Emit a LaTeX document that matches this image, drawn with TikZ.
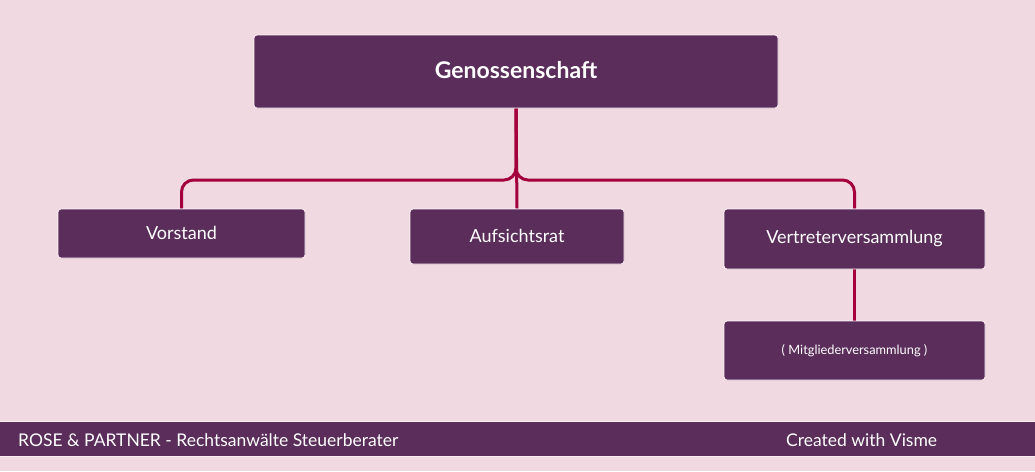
\documentclass[tikz,border=0pt]{standalone}
\usepackage{fontspec}
\setmainfont{Lato}
\definecolor{bgpink}{HTML}{F0D9E0}
\definecolor{boxplum}{HTML}{5A2D5A}
\definecolor{linecrim}{HTML}{A3003C}
\definecolor{edgelight}{HTML}{FBEFF3}
\begin{document}
\begin{tikzpicture}[x=1pt,y=-1pt,
  orgbox/.style={fill=boxplum,draw=edgelight,line width=0.8pt,rounded corners=3pt,text=white,inner sep=0pt,align=center},
  bigtxt/.style={font=\bfseries\fontsize{23}{27}\selectfont},
  midtxt/.style={font=\fontsize{18}{21}\selectfont},
  smalltxt/.style={font=\fontsize{12.8}{15}\selectfont},
  foottxt/.style={anchor=west,text=white,font=\fontsize{17.5}{20}\selectfont,inner sep=0pt},
  conn/.style={draw=linecrim,line width=3pt,rounded corners=12pt}]
\fill[bgpink] (0,0) rectangle (1035,471);
\useasboundingbox (0,0) rectangle (1035,471);
\coordinate (j) at (517,180);
\node[orgbox,minimum width=524pt,minimum height=73pt,bigtxt] (g) at (516,71.5) {\raisebox{3pt}{Genossenschaft}};
\node[orgbox,minimum width=247pt,minimum height=49pt,midtxt] (v) at (181.5,233.5) {\raisebox{2pt}{Vorstand}};
\node[orgbox,minimum width=214pt,minimum height=55pt,midtxt] (a) at (517,236.5) {\raisebox{2pt}{Aufsichtsrat}};
\node[orgbox,minimum width=261pt,minimum height=60pt,midtxt] (vv) at (854.5,239) {Vertreterversammlung};
\node[orgbox,minimum width=261pt,minimum height=59pt,smalltxt] (m) at (854.5,350.5) {( Mitgliederversammlung )};
\draw[conn] (g.south) |- (v.north |- j) -- (v.north);
\draw[conn] (g.south) |- (vv.north |- j) -- (vv.north);
\draw[conn,rounded corners=0pt] (g.south) -- (a.north);
\draw[conn,rounded corners=0pt] (vv.south) -- (m.north);
% boxes again, on top of the connector ends
\node[orgbox,minimum width=524pt,minimum height=73pt,bigtxt] at (516,71.5) {\raisebox{3pt}{Genossenschaft}};
\node[orgbox,minimum width=247pt,minimum height=49pt,midtxt] at (181.5,233.5) {\raisebox{2pt}{Vorstand}};
\node[orgbox,minimum width=214pt,minimum height=55pt,midtxt] at (517,236.5) {\raisebox{2pt}{Aufsichtsrat}};
\node[orgbox,minimum width=261pt,minimum height=60pt,midtxt] at (854.5,239) {Vertreterversammlung};
\node[orgbox,minimum width=261pt,minimum height=59pt,smalltxt] at (854.5,350.5) {( Mitgliederversammlung )};
% footer
\node[fill=boxplum,draw=edgelight,line width=0.8pt,minimum width=1037pt,minimum height=35pt,inner sep=0pt] (foot) at (517.5,438.5) {};
\node[foottxt] (rp) at (18,440) {ROSE \& PARTNER - Rechtsanwälte Steuerberater};
\node[foottxt] (cv) at (786,440) {Created with Visme};
\end{tikzpicture}
\end{document}
